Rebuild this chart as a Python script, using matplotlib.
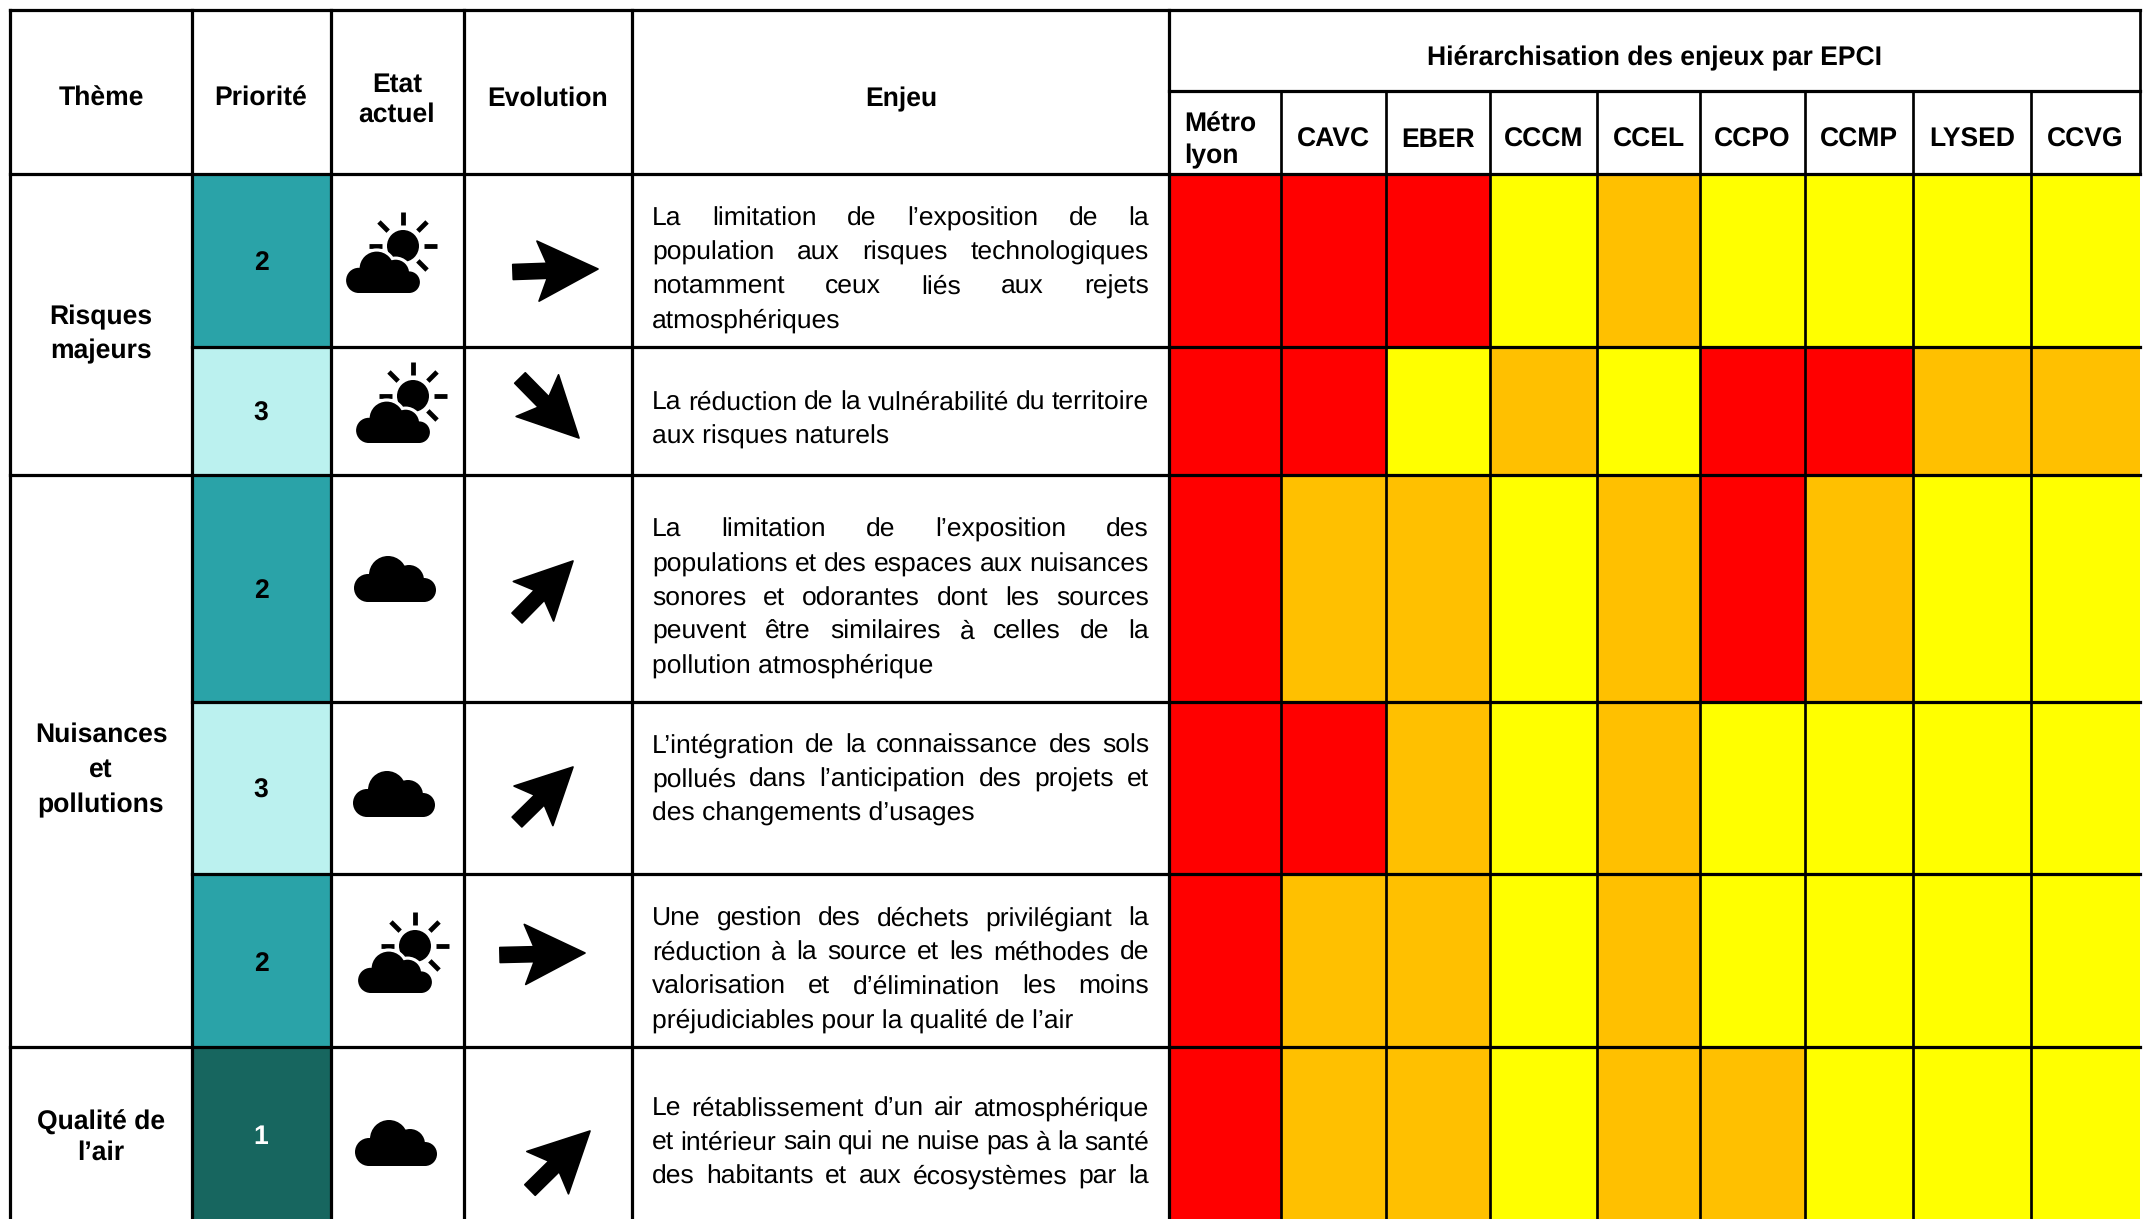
import numpy as np
import matplotlib
matplotlib.use("Agg")
import matplotlib.pyplot as plt
from matplotlib.colors import ListedColormap
from matplotlib.patches import Circle, Polygon, Rectangle

plt.rcParams['font.family'] = ['Liberation Sans', 'DejaVu Sans']
plt.rcParams['text.hinting'] = 'no_hinting'

# ---------- data ----------
themes = [["Risques", "majeurs"], ["Nuisances", "et", "pollutions"], ["Qualité de", "l’air"]]
columns = ["Thème", "Priorité", "Etat\nactuel", "Evolution", "Enjeu"]
group_title = "Hiérarchisation des enjeux par EPCI"
epci = ["Métro\nlyon", "CAVC", "EBER", "CCCM", "CCEL", "CCPO", "CCMP", "LYSED", "CCVG"]
priorities = [2, 3, 2, 3, 2, 1]
states = ["mixed", "mixed", "cloud", "cloud", "mixed", "cloud"]
trends = ["flat", "down", "up", "up", "flat", "up"]
# 2 = red, 1 = orange, 0 = yellow
levels = [
    [2, 2, 2, 0, 1, 0, 0, 0, 0],
    [2, 2, 0, 1, 0, 2, 2, 1, 1],
    [2, 1, 1, 0, 1, 2, 1, 0, 0],
    [2, 2, 1, 0, 1, 0, 0, 0, 0],
    [2, 1, 1, 0, 1, 0, 0, 0, 0],
    [2, 1, 1, 0, 1, 1, 0, 0, 0],
]
enjeux = [
    ["La limitation de l’exposition de la", "population aux risques technologiques",
     "notamment ceux liés aux rejets", "atmosphériques"],
    ["La réduction de la vulnérabilité du territoire", "aux risques naturels"],
    ["La limitation de l’exposition des", "populations et des espaces aux nuisances",
     "sonores et odorantes dont les sources", "peuvent être similaires à celles de la",
     "pollution atmosphérique"],
    ["L’intégration de la connaissance des sols", "pollués dans l’anticipation des projets et",
     "des changements d’usages"],
    ["Une gestion des déchets privilégiant la", "réduction à la source et les méthodes de",
     "valorisation et d’élimination les moins", "préjudiciables pour la qualité de l’air"],
    ["Le rétablissement d’un air atmosphérique", "et intérieur sain qui ne nuise pas à la santé",
     "des habitants et aux écosystèmes par la"],
]

# ---------- layout (pixels) ----------
W, H = 2145, 1219
X = [10, 192, 331, 464, 632, 1169]
XH = [1169, 1281, 1386, 1490, 1597, 1700, 1805, 1913, 2031, 2140]
YTOP, YSPLIT, YHEAD = 10, 91, 174
YR = [174, 347, 475, 702, 874, 1047, 1219]
THEME_BOT = [475, 1047]
LW = 3.2 * 72 / 100
LWT = 2.7 * 72 / 100
BODY = 19.05
HEAD = 19.1
PRI_COL = {1: "#17665F", 2: "#2AA3A8", 3: "#BBF1EF"}
PRI_TXT = {1: "white", 2: "black", 3: "black"}
HEAT = ListedColormap(["#FFFF00", "#FFC000", "#FF0000"])
NUM_Y = [261, 412, 589, 789, 962, 1135]
TEXT_BASE = [[226, 260, 294, 328], [410, 444], [537, 572, 606, 639, 673],
             [753, 787, 821], [926, 960, 994, 1028], [1116, 1150, 1184]]
STATE_POS = [(383, 293), (393, 443), (395, 602), (394, 817), (395, 993), (396, 1166)]
ARROWS = [((513, 272), (598, 269)), ((520, 378), (579, 438)), ((517, 618), (573, 561)),
          ((517, 822), (573, 767)), ((500, 955), (585, 953)), ((530, 1190), (590, 1131))]

fig = plt.figure(figsize=(W / 100, H / 100), dpi=100, facecolor="white")
ax = fig.add_axes([0, 0, 1, 1])
ax.set_xlim(0, W)
ax.set_ylim(H, 0)
ax.axis("off")

# ---------- fills ----------
ax.pcolormesh(XH, YR, np.array(levels), cmap=HEAT, vmin=0, vmax=2, zorder=1)
for i, p in enumerate(priorities):
    ax.add_patch(Rectangle((X[1], YR[i]), X[2] - X[1], YR[i + 1] - YR[i],
                           fc=PRI_COL[p], ec="none", zorder=1))

# ---------- grid ----------
K = dict(color="black", zorder=2, solid_capstyle="projecting")
ax.plot([X[0], XH[-1]], [YTOP, YTOP], lw=LW, **K)
ax.plot([X[5], XH[-1]], [YSPLIT, YSPLIT], lw=LW, **K)
ax.plot([X[0], XH[-1]], [YHEAD, YHEAD], lw=LW, **K)
for y in YR[1:-1]:
    ax.plot([X[0] if y in THEME_BOT else X[1], XH[-1]], [y, y], lw=LW, **K)
for x in X:
    ax.plot([x, x], [YTOP, H], lw=LW, **K)
for x in XH[1:-1]:
    ax.plot([x, x], [YSPLIT, H], lw=LWT, **K)
ax.plot([XH[-1], XH[-1]], [YTOP, YHEAD], lw=LWT, **K)


# ---------- icons ----------
def cloud(cx, by, s, halo=False):
    parts = [(-27, -14, 14), (-7, -27, 19), (14, -22, 15), (29, -12, 12)]
    if halo:
        for a, b, r in parts:
            ax.add_patch(Circle((cx + a * s, by + b * s), (r + 3.5) * s, fc="white", ec="none", zorder=3))
    for a, b, r in parts:
        ax.add_patch(Circle((cx + a * s, by + b * s), r * s, fc="black", ec="none", zorder=4))
    ax.add_patch(Rectangle((cx - 27 * s, by - 14 * s), 56 * s, 14 * s, fc="black", ec="none", zorder=4))
    ax.add_patch(Rectangle((cx - 7 * s, by - 27 * s), 21 * s, 14 * s, fc="black", ec="none", zorder=4))


def sun(cx, by):
    sx, sy = cx + 20, by - 47
    ax.add_patch(Circle((sx, sy), 16, fc="black", ec="none", zorder=2.5))
    for ang in [0, 45, 90, 135, 180, -45]:
        c, n = np.cos(np.radians(ang)), -np.sin(np.radians(ang))
        ax.plot([sx + 21 * c, sx + 34 * c], [sy + 21 * n, sy + 34 * n], color="black",
                lw=4.8 * 72 / 100, solid_capstyle="butt", zorder=2.5)


def arrow(tail, tip):
    tail, tip = np.array(tail, float), np.array(tip, float)
    d = tip - tail
    L = np.hypot(*d)
    u = d / L
    v = np.array([-u[1], u[0]])
    k = L / 85
    shape = [(0, 0), (-60, 30), (-51, 7.5), (-85, 7.5), (-85, -7.5), (-51, -7.5), (-60, -30)]
    pts = [tip + a * k * u + b * k * v for a, b in shape]
    ax.add_patch(Polygon(pts, closed=True, fc="black", ec="black", lw=1.2, joinstyle="round", zorder=4))


for st, pos, tr, arr in zip(states, STATE_POS, trends, ARROWS):
    if st == "mixed":
        sun(*pos)
        cloud(pos[0], pos[1], 0.9, halo=True)
    else:
        cloud(pos[0], pos[1], 1.0)
    arrow(*arr)

# ---------- text ----------
rend = fig.canvas.get_renderer()


def word_w(s, size, weight="normal"):
    t = ax.text(0, 0, s, fontsize=size, fontweight=weight)
    w = t.get_window_extent(rend).width
    t.remove()
    return w


def put(x, y, s, size=HEAD, weight="bold", ha="center", va="center", color="black"):
    ax.text(x, y, s, fontsize=size, fontweight=weight, ha=ha, va=va, color=color, zorder=5)


def center_lines(x, ys, lines, **kw):
    for y, s in zip(ys, lines):
        put(x, y + 10, s, va="baseline", **kw)


center_lines(101, [96], ["Thème"])
center_lines(261, [96], ["Priorité"])
center_lines(397, [82, 112], columns[2].split("\n"))
center_lines(548, [96], ["Evolution"])
center_lines(901, [96], ["Enjeu"])
center_lines((XH[0] + XH[-1]) / 2, [55], [group_title])
center_lines(101, [314, 348], themes[0])
center_lines(101, [732, 767, 802], themes[1])
center_lines(101, [1120, 1150], themes[2])

for lab, a, b in zip(epci, XH[:-1], XH[1:]):
    if "\n" in lab:
        for y, s in zip([122, 153], lab.split("\n")):
            put(1184, y + 10, s, ha="left", va="baseline")
    else:
        put((a + b) / 2, 147, lab, va="baseline")

for p, y in zip(priorities, NUM_Y):
    put(261, y + 9, str(p), color=PRI_TXT[p], va="baseline")

TL, TR = 652, 1149
for lines, bases in zip(enjeux, TEXT_BASE):
    n = len(lines)
    for j, (line, base) in enumerate(zip(lines, bases)):
        last = (j == n - 1) and not (lines is enjeux[5])
        words = line.split(" ")
        if last:
            ax.text(TL, base, line, fontsize=BODY, ha="left", va="baseline", zorder=5)
            continue
        ws = [word_w(w, BODY) for w in words]
        gap = (TR - TL - sum(ws)) / (len(words) - 1)
        x = TL
        for w, ww in zip(words, ws):
            ax.text(x, base, w, fontsize=BODY, ha="left", va="baseline", zorder=5)
            x += ww + gap

fig.savefig("out.png", dpi=100, facecolor="white")
